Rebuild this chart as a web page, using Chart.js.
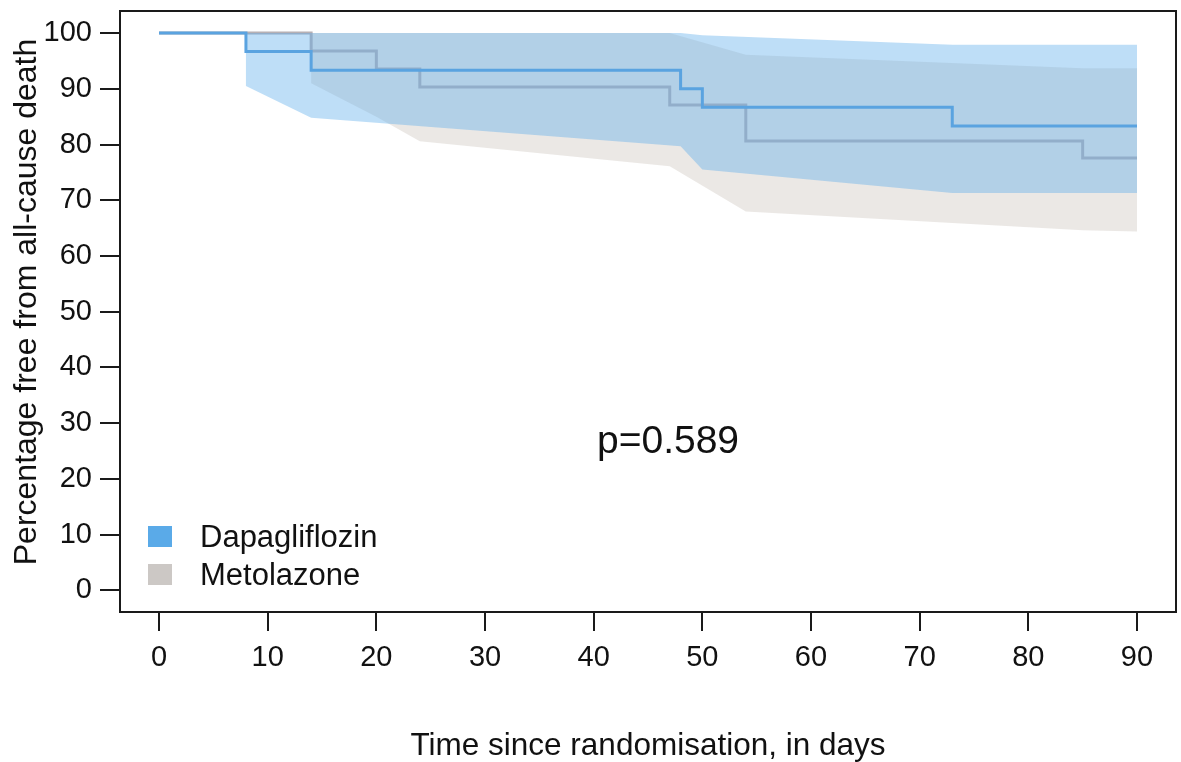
<!DOCTYPE html>
<html>
<head>
  <meta charset="utf-8">
  <title>Percentage free from all-cause death</title>
  <script src="https://cdn.jsdelivr.net/npm/chart.js"></script>
  <style>
    html, body {
      margin: 0;
      padding: 0;
      background: #ffffff;
    }
    .chart-wrapper {
      width: 1181px;
      height: 762px;
      position: relative;
    }
  </style>
</head>
<body>
  <div class="chart-wrapper">
    <canvas id="kmChart"></canvas>
  </div>

  <script>
    const xTicks = [0, 10, 20, 30, 40, 50, 60, 70, 80, 90];
    const yTicks = [0, 10, 20, 30, 40, 50, 60, 70, 80, 90, 100];

    // Kaplan-Meier steps (day, % free from death)
    const dapaDays = [0, 8, 14, 48, 50, 73, 90];
    const dapaSurv = [100, 96.67, 93.33, 90.0, 86.67, 83.33, 83.33];
    const metoDays = [0, 14, 20, 24, 47, 54, 85, 90];
    const metoSurv = [100, 96.77, 93.55, 90.32, 87.1, 80.65, 77.6, 77.6];

    // confidence bands
    const dapaCiDays = [0, 8, 8, 14, 48, 50, 73, 90];
    const dapaCiUpper = [100, 100, 100, 100, 100, 99.6, 97.9, 97.9];
    const dapaCiLower = [100, 100, 90.5, 84.8, 79.7, 75.5, 71.3, 71.3];
    const metoCiDays = [0, 14, 14, 20, 24, 47, 54, 85, 90];
    const metoCiUpper = [100, 100, 100, 100, 100, 100, 96.1, 93.7, 93.7];
    const metoCiLower = [100, 100, 91.0, 85.0, 80.6, 76.1, 68.0, 64.6, 64.4];

    const groupNames = ['Dapagliflozin', 'Metolazone'];
    const pValueText = 'p=0.589';
    const xTitle = 'Time since randomisation, in days';
    const yTitle = 'Percentage free from all-cause death';

    const FONT = '"Liberation Sans", Arial, Helvetica, sans-serif';
    const BLUE_LINE = '#5aa3e0';
    const BLUE_FILL = 'rgba(93, 173, 236, 0.4)';
    const GREY_LINE = '#b6b0b4';
    const GREY_FILL = 'rgba(205, 198, 190, 0.4)';

    const pts = (xs, ys) => xs.map((x, i) => ({ x: x, y: ys[i] }));

    const bandStyle = { borderWidth: 0, pointRadius: 0, tension: 0 };

    const extras = {
      id: 'extras',
      afterDraw(chart) {
        const ctx = chart.ctx;
        const a = chart.chartArea;
        ctx.save();
        ctx.strokeStyle = '#1a1a1a';
        ctx.lineWidth = 2;
        ctx.strokeRect(a.left, a.top, a.right - a.left, a.bottom - a.top);

        ctx.fillStyle = '#5aaae8';
        ctx.fillRect(148, 526, 24, 21);
        ctx.fillStyle = '#ccc8c5';
        ctx.fillRect(148, 564, 24, 21);

        ctx.fillStyle = '#111';
        ctx.textBaseline = 'alphabetic';
        ctx.textAlign = 'left';
        ctx.font = '31px ' + FONT;
        ctx.fillText(groupNames[0], 200, 547);
        ctx.fillText(groupNames[1], 200, 585);

        ctx.textAlign = 'center';
        ctx.font = '39px ' + FONT;
        ctx.fillText(pValueText, 668, 453);

        ctx.translate(36, 302);
        ctx.rotate(-Math.PI / 2);
        ctx.font = '32px ' + FONT;
        ctx.fillText(yTitle, 0, 0);
        ctx.restore();
      }
    };

    new Chart(document.getElementById('kmChart').getContext('2d'), {
      type: 'line',
      data: {
        datasets: [
          { data: pts(metoCiDays, metoCiUpper), fill: 1, backgroundColor: GREY_FILL, order: 6, ...bandStyle },
          { data: pts(metoCiDays, metoCiLower), fill: false, order: 6, ...bandStyle },
          { data: pts(dapaCiDays, dapaCiUpper), fill: 3, backgroundColor: BLUE_FILL, order: 4, ...bandStyle },
          { data: pts(dapaCiDays, dapaCiLower), fill: false, order: 4, ...bandStyle },
          { label: groupNames[1], data: pts(metoDays, metoSurv), stepped: true, borderColor: GREY_LINE,
            borderWidth: 3, pointRadius: 0, fill: false, order: 5 },
          { label: groupNames[0], data: pts(dapaDays, dapaSurv), stepped: true, borderColor: BLUE_LINE,
            borderWidth: 3, pointRadius: 0, fill: false, order: 1 }
        ]
      },
      options: {
        responsive: true,
        maintainAspectRatio: false,
        animation: false,
        layout: { padding: { top: 11, right: 5, left: 0, bottom: 0 } },
        plugins: {
          legend: { display: false },
          tooltip: { enabled: false }
        },
        scales: {
          x: {
            type: 'linear',
            min: -3.59,
            max: 93.59,
            afterBuildTicks: s => { s.ticks = xTicks.map(v => ({ value: v })); },
            afterFit: s => {
              s.height = 150;
              s.paddingLeft = 0;
              s.paddingRight = 0;
            },
            ticks: {
              color: '#111',
              font: { size: 29, family: FONT },
              padding: 10,
              maxRotation: 0,
              autoSkip: false
            },
            grid: { drawOnChartArea: false, drawTicks: true, tickLength: 19, color: '#1a1a1a', lineWidth: 2 },
            border: { display: true, color: '#1a1a1a', width: 2 },
            title: {
              display: true,
              text: xTitle,
              color: '#111',
              font: { size: 31.5, family: FONT, lineHeight: 1.0 },
              padding: { top: 0, bottom: 0 }
            }
          },
          y: {
            type: 'linear',
            min: -3.86,
            max: 103.95,
            afterBuildTicks: s => { s.ticks = yTicks.map(v => ({ value: v })); },
            afterFit: s => {
              s.width = 120;
              s.paddingTop = 0;
              s.paddingBottom = 0;
            },
            ticks: {
              color: '#111',
              font: { size: 29, family: FONT },
              padding: 8
            },
            grid: { drawOnChartArea: false, drawTicks: true, tickLength: 20, color: '#1a1a1a', lineWidth: 2 },
            border: { display: true, color: '#1a1a1a', width: 2 }
          }
        }
      },
      plugins: [extras]
    });
  </script>
</body>
</html>
